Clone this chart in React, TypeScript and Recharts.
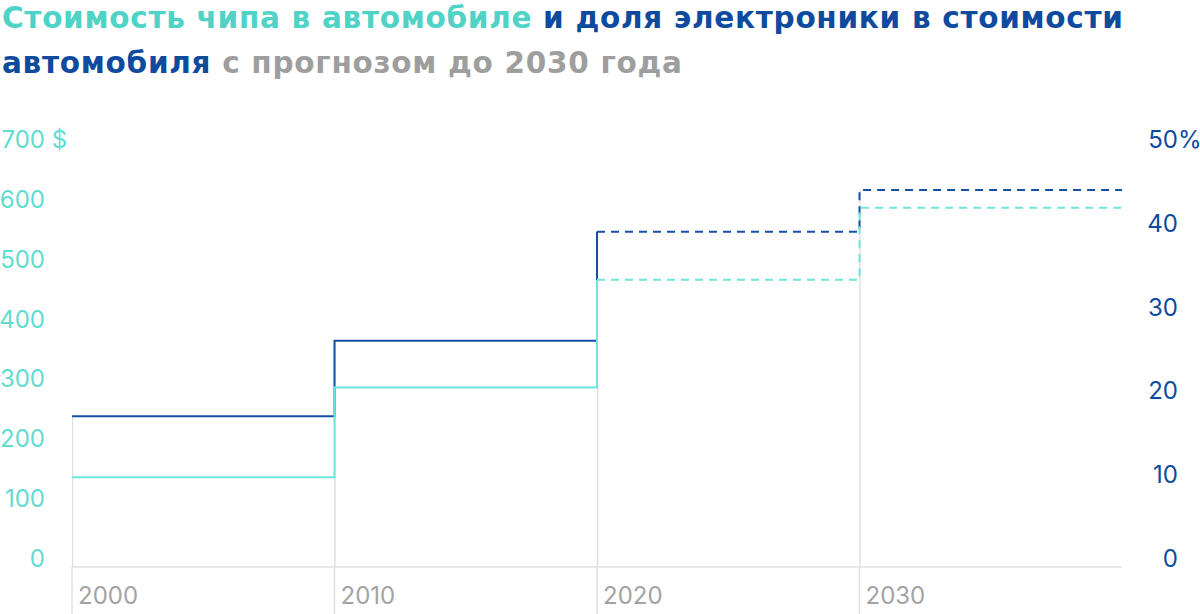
import React from "react";
import { ComposedChart, Line, Bar, XAxis, YAxis } from "recharts";

const years = [2000, 2010, 2020, 2030, 2040];
const chipCostActual = [150, 300, 480, null, null];
const chipCostForecast = [null, null, 480, 600, 600];
const shareActual = [18, 27, 40, null, null];
const shareForecast = [null, null, 40, 45, 45];
const dropLines = [18, 27, 40, 45, null];
const costTicks = [0, 100, 200, 300, 400, 500, 600, 700];
const shareTicks = [0, 10, 20, 30, 40, 50];
const yearTicks = [2000, 2010, 2020, 2030];

const CYAN = "#5fdccf";
const CYAN_TITLE = "#4fd3c6";
const CYAN_LINE = "#6de6dc";
const BLUE = "#0e4a9e";
const BLUE_LINE = "#1450a6";
const GRAY_TEXT = "#a3a3a3";
const GRAY_TITLE = "#9e9e9e";
const GRID = "#e0e0e0";
const FONT = "Inter, Roboto, sans-serif";
const TITLE_FONT = "'DejaVu Sans', sans-serif";

const data = years.map((y, i) => ({
  year: y,
  costA: chipCostActual[i],
  costF: chipCostForecast[i],
  shareA: shareActual[i],
  shareF: shareForecast[i],
  drop: dropLines[i],
}));

const LeftTick = (props: any) => {
  const { y, payload } = props;
  return (
    <g>
      <text x={45} y={y} textAnchor="end" fill={CYAN} fontSize={24} fontFamily={FONT}>
        {payload.value}
      </text>
      {payload.value === 700 && (
        <text x={45} y={y} textAnchor="start" fill={CYAN} fontSize={24} fontFamily={FONT}>
          {"\u00a0$"}
        </text>
      )}
    </g>
  );
};

const RightTick = (props: any) => {
  const { y, payload } = props;
  return (
    <g>
      <text x={1178} y={y} textAnchor="end" fill={BLUE} fontSize={24} fontFamily={FONT}>
        {payload.value}
      </text>
      {payload.value === 50 && (
        <text x={1178} y={y} textAnchor="start" fill={BLUE} fontSize={24} fontFamily={FONT}>
          %
        </text>
      )}
    </g>
  );
};

const BottomTick = (props: any) => {
  const { x, y, payload } = props;
  return (
    <g>
      <line x1={x} x2={x} y1={y - 8} y2={y + 60} stroke={GRID} strokeWidth={1.5} />
      <text x={x + 6} y={y + 29} textAnchor="start" fill={GRAY_TEXT} fontSize={24} fontFamily={FONT}>
        {payload.value}
      </text>
    </g>
  );
};

export default function App() {
  return (
    <div style={{ position: "absolute", left: 0, top: 0, width: 1200, height: 614, background: "#fff", overflow: "hidden" }}>
      <div style={{ position: "absolute", left: 0, top: 0 }}>
        <ComposedChart width={1200} height={614} data={data} margin={{ top: 148, right: 0, bottom: 0, left: 0 }}>
          <XAxis
            dataKey="year"
            type="number"
            domain={[2000, 2040]}
            ticks={yearTicks}
            axisLine={{ stroke: GRID, strokeWidth: 1.5 }}
            tickLine={false}
            tick={<BottomTick />}
            height={47}
            allowDataOverflow
          />
          <YAxis
            yAxisId="cost"
            orientation="left"
            domain={[0, 700]}
            ticks={costTicks}
            width={72}
            axisLine={false}
            tickLine={false}
            tick={<LeftTick />}
          />
          <YAxis
            yAxisId="share"
            orientation="right"
            domain={[0, 50]}
            ticks={shareTicks}
            width={78}
            axisLine={false}
            tickLine={false}
            tick={<RightTick />}
          />
          <Bar yAxisId="share" dataKey="drop" barSize={1.5} fill={GRID} isAnimationActive={false} />
          <Line yAxisId="share" type="stepAfter" dataKey="shareA" stroke={BLUE_LINE} strokeWidth={2} dot={false} activeDot={false} isAnimationActive={false} />
          <Line yAxisId="share" type="stepAfter" dataKey="shareF" stroke={BLUE_LINE} strokeWidth={2} strokeDasharray="8 6" dot={false} activeDot={false} isAnimationActive={false} />
          <Line yAxisId="cost" type="stepAfter" dataKey="costA" stroke={CYAN_LINE} strokeWidth={2} dot={false} activeDot={false} isAnimationActive={false} />
          <Line yAxisId="cost" type="stepAfter" dataKey="costF" stroke={CYAN_LINE} strokeWidth={2} strokeDasharray="8 6" dot={false} activeDot={false} isAnimationActive={false} />
        </ComposedChart>
      </div>
      <svg width={1200} height={90} style={{ position: "absolute", left: 0, top: 0 }}>
        <text x={2} y={28} fontFamily={TITLE_FONT} fontWeight={700} fontSize={29.5} textLength={1121} lengthAdjust="spacing">
          <tspan fill={CYAN_TITLE}>Стоимость чипа в автомобиле</tspan>
          <tspan fill={BLUE}> и доля электроники в стоимости</tspan>
        </text>
        <text x={2} y={73} fontFamily={TITLE_FONT} fontWeight={700} fontSize={29.5} textLength={680} lengthAdjust="spacing">
          <tspan fill={BLUE}>автомобиля</tspan>
          <tspan fill={GRAY_TITLE}> с прогнозом до 2030 года</tspan>
        </text>
      </svg>
    </div>
  );
}
